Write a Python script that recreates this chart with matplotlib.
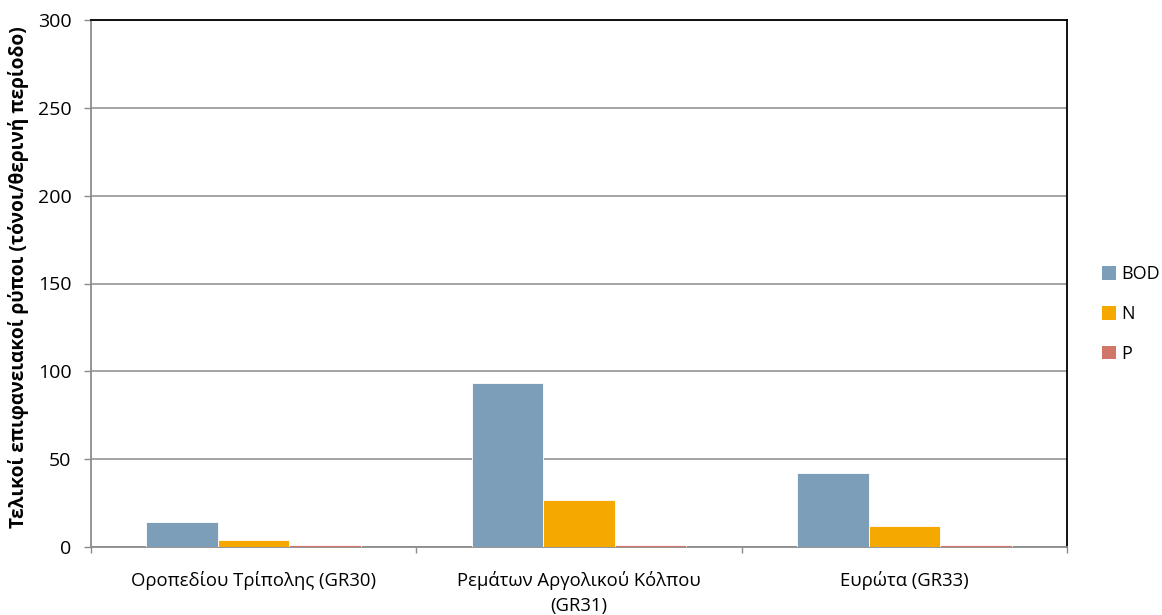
import matplotlib
matplotlib.use("Agg")
import matplotlib.pyplot as plt
import numpy as np
from matplotlib.patches import Patch

categories = ["Οροπεδίου Τρίπολης (GR30)", "Ρεμάτων Αργολικού Κόλπου\n(GR31)", "Ευρώτα (GR33)"]
series_names = ["BOD", "N", "P"]
bod = [14.4, 93.5, 42.3]
n_vals = [4.0, 26.7, 12.0]
p_vals = [1.3, 1.3, 1.3]
colors = ["#7c9eb8", "#f5a800", "#d0776a"]
yticks = [0, 50, 100, 150, 200, 250, 300]

plt.rcParams['font.family'] = ['Open Sans', 'DejaVu Sans']

fig = plt.figure(figsize=(11.62, 6.15), dpi=100)
ax = fig.add_axes([91/1162, 1-547/615, (1067-91)/1162, (547-20)/615])

x = np.arange(len(categories))
w = 0.22
for i, (vals, c) in enumerate(zip([bod, n_vals, p_vals], colors)):
    ax.bar(x - w + i*w, vals, width=w, color=c, edgecolor="white", linewidth=0.6, zorder=3)

ax.set_xlim(-0.5, len(categories)-0.5)
ax.set_ylim(0, 300)
ax.set_yticks(yticks)
ax.set_yticklabels([str(t) for t in yticks], fontsize=14)
ax.yaxis.grid(True, color="#8c8c8c", linewidth=1.1, zorder=0)
ax.set_axisbelow(True)

ax.set_xticks(x)
ax.set_xticklabels(categories, fontsize=13.3, linespacing=1.5)
ax.tick_params(axis='x', length=0, pad=17)
ax.set_xticks(np.arange(len(categories)+1) - 0.5, minor=True)
ax.tick_params(axis='x', which='minor', length=4.5, color="#8c8c8c", width=1)
ax.tick_params(axis='y', length=5, color="#8c8c8c", width=1, pad=9)

for s in ["left", "bottom"]:
    ax.spines[s].set_color("#8c8c8c")
    ax.spines[s].set_linewidth(1.3)
for s in ["top", "right"]:
    ax.spines[s].set_color("black")
    ax.spines[s].set_linewidth(1.3)

fig.text(19/1162, 1-277/615, "Τελικοί επιφανειακοί ρύποι (τόνοι/θερινή περίοδο)",
         rotation=90, ha="center", va="center", fontsize=13.8, fontweight="bold")

handles = [Patch(facecolor=c, edgecolor="none") for c in colors]
fig.legend(handles, series_names, loc="center left", bbox_to_anchor=(1102/1162, 1-314/615),
           frameon=False, fontsize=13, handlelength=0.78, handleheight=0.78, handletextpad=0.28,
           labelspacing=1.2, borderpad=0, borderaxespad=0)

fig.savefig("out.png", dpi=100)
